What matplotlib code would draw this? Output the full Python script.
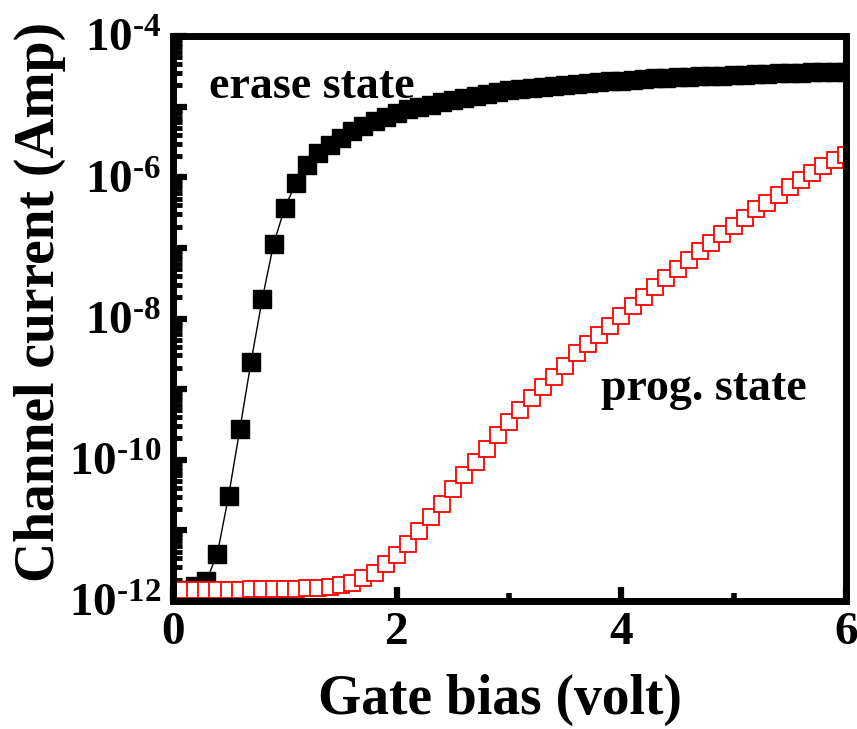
import numpy as np
import matplotlib
matplotlib.use("Agg")
import matplotlib.pyplot as plt
from matplotlib.ticker import LogLocator, NullFormatter, FixedLocator

# gate sweep, 0.1 V steps
bias_erase = np.linspace(0, 6, 61)
bias_prog = np.linspace(0.1, 6, 60)

# erase state (filled black squares), Amp
i_erase = [1.38e-12, 1.41e-12, 1.62e-12, 1.9e-12, 4.7e-12, 3.1e-11, 2.7e-10, 2.45e-9,
           1.9e-8, 1.12e-7, 3.7e-7, 8.3e-7, 1.48e-6, 2.2e-6, 2.88e-6, 3.63e-6,
           4.47e-6, 5.37e-6, 6.31e-6, 7.24e-6, 8.13e-6, 9.12e-6, 1.00e-5, 1.07e-5,
           1.15e-5, 1.26e-5, 1.33e-5, 1.41e-5, 1.51e-5, 1.60e-5, 1.70e-5, 1.78e-5,
           1.84e-5, 1.91e-5, 1.97e-5, 2.04e-5, 2.09e-5, 2.16e-5, 2.24e-5, 2.29e-5,
           2.34e-5, 2.40e-5, 2.45e-5, 2.51e-5, 2.57e-5, 2.63e-5, 2.66e-5, 2.69e-5,
           2.72e-5, 2.75e-5, 2.79e-5, 2.82e-5, 2.88e-5, 2.92e-5, 2.95e-5, 3.02e-5,
           3.02e-5, 3.05e-5, 3.09e-5, 3.09e-5, 3.13e-5]

# programmed state (open red squares), Amp
i_prog = [1.45e-12, 1.45e-12, 1.45e-12, 1.45e-12, 1.45e-12, 1.45e-12, 1.46e-12, 1.47e-12,
          1.48e-12, 1.49e-12, 1.50e-12, 1.52e-12, 1.55e-12, 1.60e-12, 1.70e-12, 1.82e-12,
          2.09e-12, 2.51e-12, 3.31e-12, 4.47e-12, 6.46e-12, 9.8e-12, 1.55e-11, 2.40e-11,
          3.80e-11, 6.03e-11, 9.3e-11, 1.41e-10, 2.24e-10, 3.47e-10, 5.13e-10, 7.41e-10,
          1.07e-9, 1.48e-9, 2.14e-9, 3.24e-9, 4.37e-9, 5.75e-9, 7.76e-9, 1.07e-8,
          1.48e-8, 2.04e-8, 2.82e-8, 3.72e-8, 5.01e-8, 6.76e-8, 8.91e-8, 1.17e-7,
          1.58e-7, 2.04e-7, 2.69e-7, 3.55e-7, 4.37e-7, 5.62e-7, 7.24e-7, 9.12e-7,
          1.15e-6, 1.45e-6, 1.78e-6, 2.04e-6]

x_ticks = [0, 2, 4, 6]
x_minor = [1, 3, 5]
y_decades = [1e-12, 1e-11, 1e-10, 1e-9, 1e-8, 1e-7, 1e-6, 1e-5, 1e-4]
y_labels = [r"$10^{\text{-12}}$", "", r"$10^{\text{-10}}$", "", r"$10^{\text{-8}}$", "",
            r"$10^{\text{-6}}$", "", r"$10^{\text{-4}}$"]

plt.rcParams["font.family"] = ["Liberation Serif", "DejaVu Serif"]
plt.rcParams["font.weight"] = "bold"
plt.rcParams["mathtext.fontset"] = "custom"
plt.rcParams["mathtext.rm"] = "Liberation Serif:bold"
plt.rcParams["mathtext.it"] = "Liberation Serif:bold"
plt.rcParams["mathtext.bf"] = "Liberation Serif:bold"

fig = plt.figure(figsize=(8.57, 7.29), dpi=100)
ax = fig.add_axes([0.2013, 0.1756, 0.7857, 0.775])

ax.plot(bias_erase, i_erase, color="black", lw=1.0, marker="s", ms=12.5,
        mfc="black", mec="black")
ax.plot(bias_prog, i_prog, color="red", lw=0, marker="s", ms=11.8,
        mfc="white", mec="red", mew=1.3)

ax.set_yscale("log")
ax.set_xlim(0, 6)
ax.set_ylim(1e-12, 1e-4)

ax.set_xticks(x_ticks)
ax.set_xticklabels([str(v) for v in x_ticks])
ax.xaxis.set_minor_locator(FixedLocator(x_minor))
ax.set_yticks(y_decades)
ax.set_yticklabels(y_labels)
ax.yaxis.set_minor_locator(LogLocator(base=10, subs=np.arange(2, 10), numticks=20))
ax.yaxis.set_minor_formatter(NullFormatter())

ax.tick_params(which="both", direction="in", top=False, right=False)
ax.tick_params(axis="x", which="major", length=10, width=4.5, labelsize=34, pad=8)
ax.tick_params(axis="x", which="minor", length=6, width=4)
ax.tick_params(axis="y", which="major", length=10, width=4.5, labelsize=34, pad=8)
ax.tick_params(axis="y", which="minor", length=6.5, width=3.5)

for s in ax.spines.values():
    s.set_linewidth(5)

ax.set_xlabel("Gate bias (volt)", fontsize=40, fontweight="bold")
ax.set_ylabel("Channel current (Amp)", fontsize=40, fontweight="bold")
ax.xaxis.set_label_coords(0.486, -0.129)
ax.yaxis.set_label_coords(-0.158, 0.53)

ax.text(0.325, 10**-4.88, "erase state", fontsize=33, fontweight="bold", va="baseline")
ax.text(3.815, 10**-9.16, "prog. state", fontsize=33, fontweight="bold", va="baseline")

fig.savefig("out.png", dpi=100)
